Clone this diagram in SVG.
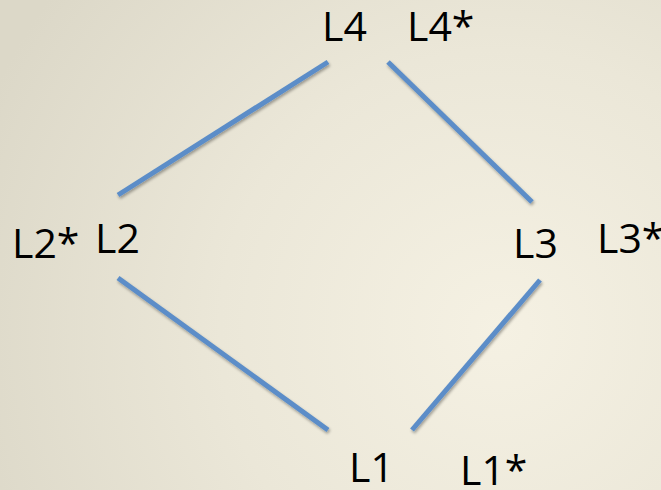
<svg xmlns="http://www.w3.org/2000/svg" width="661" height="490" viewBox="0 0 661 490">
<defs>
<radialGradient id="bg" cx="500" cy="330" r="560" gradientUnits="userSpaceOnUse">
<stop offset="0" stop-color="#f5f1e3"/>
<stop offset="0.5" stop-color="#ebe7d8"/>
<stop offset="1" stop-color="#dcd8c8"/>
</radialGradient>
<filter id="sh" x="-10%" y="-10%" width="120%" height="120%">
<feGaussianBlur in="SourceAlpha" stdDeviation="1.5"/>
<feOffset dx="1" dy="2" result="b"/>
<feComponentTransfer><feFuncA type="linear" slope="0.35"/></feComponentTransfer>
<feMerge><feMergeNode/><feMergeNode in="SourceGraphic"/></feMerge>
</filter>
</defs>
<style>
.lbl{font-family:"Open Sans","Liberation Sans",sans-serif;font-size:41px;fill:#000;}
.edge{stroke:#5b8dc8;stroke-width:5;fill:none;filter:url(#sh);}
</style>
<rect width="661" height="490" fill="url(#bg)"/>
<g id="connectors">
<line class="edge" x1="328" y1="62" x2="118" y2="195"/>
<line class="edge" x1="388" y1="62" x2="532" y2="202"/>
<line class="edge" x1="118" y1="278" x2="328" y2="430"/>
<line class="edge" x1="540" y1="280" x2="412" y2="430"/>
</g>
<g id="L4"><text class="lbl" x="322" y="41">L4</text></g>
<g id="L4star"><text class="lbl" x="407" y="41">L4*</text></g>
<g id="L2star"><text class="lbl" x="12" y="258">L2*</text></g>
<g id="L2"><text class="lbl" x="95" y="253">L2</text></g>
<g id="L3"><text class="lbl" x="513" y="258">L3</text></g>
<g id="L3star"><text class="lbl" x="597" y="253">L3*</text></g>
<g id="L1"><text class="lbl" x="349" y="482">L1</text></g>
<g id="L1star"><text class="lbl" x="460" y="485">L1*</text></g>
</svg>
